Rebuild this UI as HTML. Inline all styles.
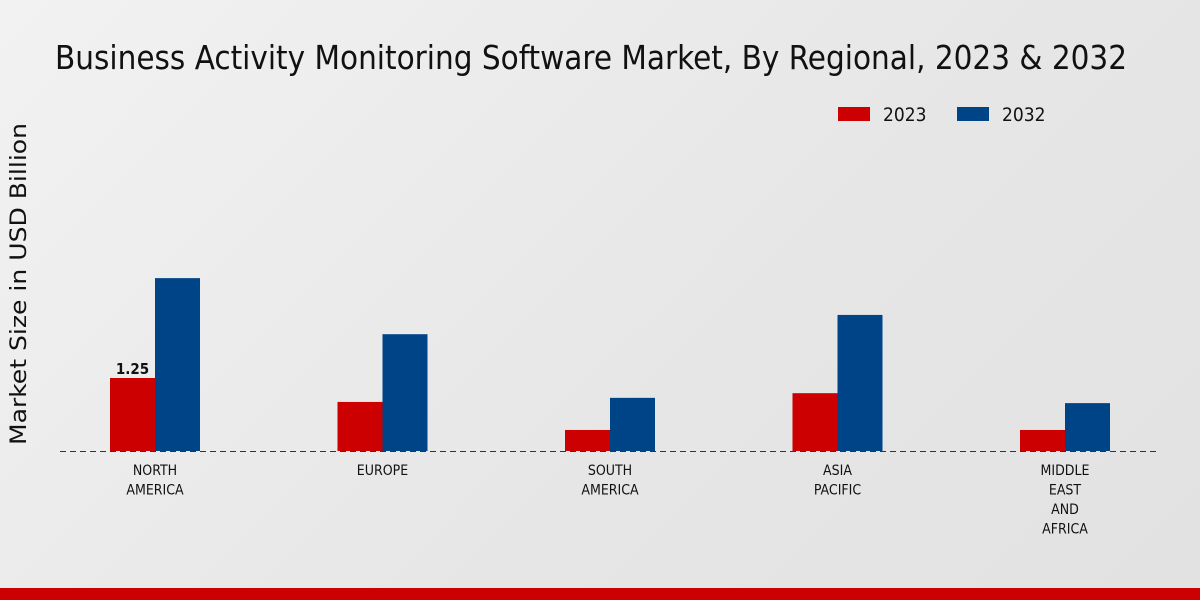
<!DOCTYPE html>
<html><head><meta charset="utf-8">
<style>
html,body{margin:0;padding:0;}
body{width:1200px;height:600px;overflow:hidden;background:linear-gradient(135deg,#f2f2f2 0%,#e6e6e6 60%,#e2e2e2 100%);font-family:"DejaVu Sans Condensed","Liberation Sans Narrow","Liberation Sans",sans-serif;}
svg{display:block}
</style></head>
<body>
<svg id="chart" width="1200" height="600">
<text x="55" y="69" font-size="33" fill="#111" textLength="1072" lengthAdjust="spacingAndGlyphs">Business Activity Monitoring Software Market, By Regional, 2023 &amp; 2032</text>
<text transform="translate(26,284) rotate(-90)" text-anchor="middle" font-size="22" fill="#111" textLength="322" lengthAdjust="spacingAndGlyphs">Market Size in USD Billion</text>
<g>
<rect x="838" y="107" width="32" height="14" fill="#cc0000"/>
<text x="883" y="121" font-size="19" fill="#111">2023</text>
<rect x="957" y="107" width="32" height="14" fill="#004488"/>
<text x="1002" y="121" font-size="19" fill="#111">2032</text>
</g>
<g id="bars"></g>
<line x1="60" y1="451.5" x2="1160" y2="451.5" stroke="#333" stroke-width="1" stroke-dasharray="6,4"/>
<g id="labels"></g>
<rect x="0" y="588" width="1200" height="12" fill="#cc0000"/>
</svg>
<script>
const categories=[["NORTH","AMERICA"],["EUROPE"],["SOUTH","AMERICA"],["ASIA","PACIFIC"],["MIDDLE","EAST","AND","AFRICA"]];
const values2023=[1.25,0.84,0.36,0.99,0.36];
const values2032=[2.96,2.0,0.91,2.33,0.82];
const NS="http://www.w3.org/2000/svg";
const baseY=451, pxPerUnit=58.4, x0=155, step=227.5, bw=45;
const yScale=v=>baseY-v*pxPerUnit;
const xCenter=i=>x0+i*step;
const bars=document.getElementById('bars'), labels=document.getElementById('labels');
function bar(x,v,color,name){
  const r=document.createElementNS(NS,'rect');
  r.setAttribute('x',x);r.setAttribute('y',yScale(v));
  r.setAttribute('width',bw);r.setAttribute('height',baseY-yScale(v));
  r.setAttribute('fill',color);
  
  
  bars.appendChild(r);
}
categories.forEach((c,i)=>{
  const cx=xCenter(i);
  bar(cx-bw,values2023[i],'#cc0000','bar-2023-'+i);
  bar(cx,values2032[i],'#004488','bar-2032-'+i);
  c.forEach((line,j)=>{
    const t=document.createElementNS(NS,'text');
    t.setAttribute('x',cx);t.setAttribute('y',475+j*19.5);
    t.setAttribute('text-anchor','middle');t.setAttribute('font-size','14');t.setAttribute('fill','#111');
    
    
    t.textContent=line;labels.appendChild(t);
  });
});
const vl=document.createElementNS(NS,'text');
vl.setAttribute('x',xCenter(0)-bw/2);vl.setAttribute('y',yScale(values2023[0])-4);
vl.setAttribute('text-anchor','middle');vl.setAttribute('font-size','15');vl.setAttribute('font-weight','bold');vl.setAttribute('fill','#111');


vl.textContent=values2023[0].toFixed(2);labels.appendChild(vl);
</script>
</body></html>
